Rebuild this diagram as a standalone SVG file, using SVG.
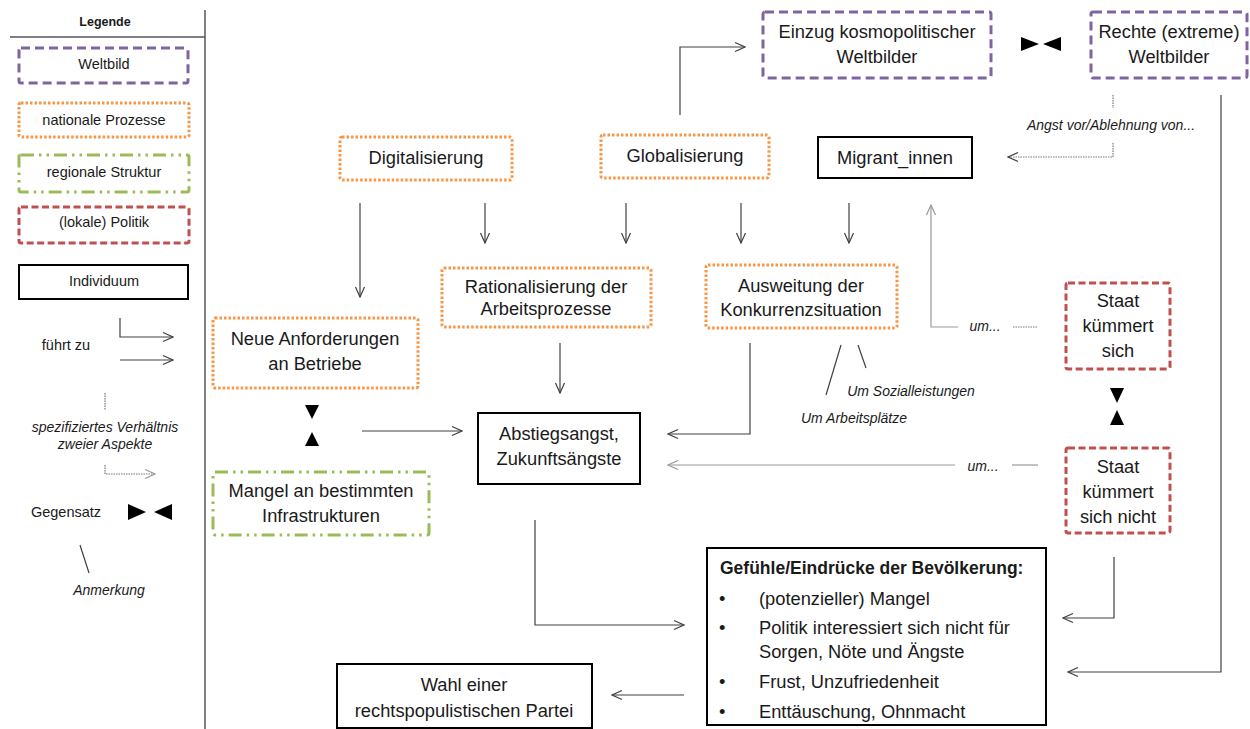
<svg xmlns="http://www.w3.org/2000/svg" width="1250" height="729" viewBox="0 0 1250 729">
<style>
text{font-family:"Liberation Sans",Arial,sans-serif;fill:#1a1a1a;dominant-baseline:central;text-anchor:middle}
.m{font-size:18.3px}
.l{font-size:14.5px}
.i{font-style:italic;font-size:14px}
.b{font-weight:bold}
.s{text-anchor:start}
.welt{fill:#fff;stroke:#8064A2;stroke-width:3;stroke-dasharray:9 5}
.nat{fill:#fff;stroke:#F79646;stroke-width:3;stroke-dasharray:2.5 2}
.reg{fill:#fff;stroke:#9BBB59;stroke-width:3;stroke-dasharray:13 5 2.5 5 2.5 5}
.pol{fill:#fff;stroke:#C0504D;stroke-width:3;stroke-dasharray:7 3.5}
.ind{fill:#fff;stroke:#000;stroke-width:2}
.c{fill:none;stroke:#404040;stroke-width:1.2}
.g{fill:none;stroke:#9a9a9a;stroke-width:1.2}
.d{fill:none;stroke:#777;stroke-width:1.2;stroke-dasharray:1.5 1}
.tri{fill:#000}
</style>
<defs>
<marker id="arr" viewBox="0 0 12 12" refX="11" refY="6" markerWidth="12" markerHeight="12" markerUnits="userSpaceOnUse" orient="auto">
<path d="M1,1.5 L11,6 L1,10.5" fill="none" stroke="#404040" stroke-width="1.2"/>
</marker>
<marker id="arrg" viewBox="0 0 12 12" refX="11" refY="6" markerWidth="12" markerHeight="12" markerUnits="userSpaceOnUse" orient="auto">
<path d="M1,1.5 L11,6 L1,10.5" fill="none" stroke="#9a9a9a" stroke-width="1.2"/>
</marker>
</defs>
<rect width="1250" height="729" fill="#fff"/>

<g id="legend">
<line x1="10" y1="37" x2="205" y2="37" stroke="#555" stroke-width="1.5"/>
<line x1="205" y1="10" x2="205" y2="729" stroke="#555" stroke-width="1.5"/>
<text x="105" y="22" class="b" font-size="12.5">Legende</text>
<rect x="19" y="48" width="169" height="35" rx="2" class="welt"/>
<text x="104" y="64" class="l">Weltbild</text>
<rect x="19" y="103" width="170" height="34" rx="2" class="nat"/>
<text x="104" y="120" class="l">nationale Prozesse</text>
<rect x="19" y="155" width="170" height="37" rx="2" class="reg"/>
<text x="104" y="172" class="l">regionale Struktur</text>
<rect x="19" y="207" width="170" height="36" rx="2" class="pol"/>
<text x="104" y="222" class="l">(lokale) Politik</text>
<rect x="19" y="265" width="169" height="34" class="ind"/>
<text x="104" y="281" class="l">Individuum</text>
<text x="66" y="345" class="l">führt zu</text>
<path d="M120,318 V337 H173" class="c" marker-end="url(#arr)"/>
<path d="M120,360 H173" class="c" marker-end="url(#arr)"/>
<path d="M105,393 V410" class="d"/>
<text x="105" y="427" class="i">spezifiziertes Verhältnis</text>
<text x="105" y="444" class="i">zweier Aspekte</text>
<path d="M105,465 V474 H155" class="d" marker-end="url(#arrg)"/>
<text x="66" y="512" class="l">Gegensatz</text>
<polygon points="128,504 146,512 128,520" class="tri"/>
<polygon points="172,504 154,512 172,520" class="tri"/>
<line x1="80" y1="545" x2="89" y2="573" stroke="#404040" stroke-width="1.2"/>
<text x="109" y="590" class="i">Anmerkung</text>
</g>

<g id="connectors">
<path d="M680,115 V47 H745" class="c" marker-end="url(#arr)"/>
<polygon points="1021,37 1039,44 1021,51" class="tri"/>
<polygon points="1061,37 1043,44 1061,51" class="tri"/>
<path d="M1113,95 V108" class="d"/>
<path d="M1113,143 V157 H1008" class="d" marker-end="url(#arr)"/>
<path d="M360,203 V297" class="c" marker-end="url(#arr)"/>
<path d="M485,203 V243" class="c" marker-end="url(#arr)"/>
<path d="M626,203 V243" class="c" marker-end="url(#arr)"/>
<path d="M741,203 V243" class="c" marker-end="url(#arr)"/>
<path d="M849,203 V243" class="c" marker-end="url(#arr)"/>
<path d="M560,343 V393" class="c" marker-end="url(#arr)"/>
<path d="M750,343 V434 H668" class="c" marker-end="url(#arr)"/>
<line x1="841" y1="345" x2="826" y2="395" stroke="#404040" stroke-width="1.2"/>
<line x1="858" y1="345" x2="866" y2="368" stroke="#404040" stroke-width="1.2"/>
<path d="M362,431 H462" class="c" marker-end="url(#arr)"/>
<polygon points="305,405 319,405 312,419" class="tri"/>
<polygon points="305,446 319,446 312,432" class="tri"/>
<path d="M958,327 H931 V205" class="g" marker-end="url(#arrg)"/>
<path d="M1013,327 H1038" class="d"/>
<path d="M955,465 H668" class="g" marker-end="url(#arrg)"/>
<path d="M1012,465 H1038" class="g"/>
<polygon points="1110,388 1124,388 1117,403" class="tri"/>
<polygon points="1110,425 1124,425 1117,410" class="tri"/>
<path d="M535,520 V625 H684" class="c" marker-end="url(#arr)"/>
<path d="M1114,557 V618 H1063" class="c" marker-end="url(#arr)"/>
<path d="M1221,95 V672 H1068" class="c" marker-end="url(#arr)"/>
<path d="M684,695 H612" class="c" marker-end="url(#arr)"/>
</g>

<g id="lbl-angst"><text x="1111" y="125" class="i">Angst vor/Ablehnung  von...</text></g>
<g id="lbl-sozial"><text x="911" y="391" class="i">Um Sozialleistungen</text></g>
<g id="lbl-arbeit"><text x="854" y="418" class="i">Um Arbeitsplätze</text></g>
<g id="lbl-um1"><text x="985" y="326" class="i">um...</text></g>
<g id="lbl-um2"><text x="983" y="466" class="i">um...</text></g>

<g id="n-kosmo">
<rect x="763" y="12" width="228" height="66" rx="2" class="welt"/>
<text x="877" y="31" class="m">Einzug kosmopolitischer</text>
<text x="877" y="56" class="m">Weltbilder</text>
</g>
<g id="n-rechte">
<rect x="1091" y="12" width="156" height="66" rx="2" class="welt"/>
<text x="1169" y="31" class="m">Rechte (extreme)</text>
<text x="1169" y="56" class="m">Weltbilder</text>
</g>
<g id="n-digital">
<rect x="340" y="137" width="172" height="43" rx="2" class="nat"/>
<text x="426" y="157" class="m">Digitalisierung</text>
</g>
<g id="n-global">
<rect x="601" y="135" width="168" height="43" rx="2" class="nat"/>
<text x="685" y="155" class="m">Globalisierung</text>
</g>
<g id="n-migrant">
<rect x="818" y="137" width="154" height="41" class="ind"/>
<text x="895" y="157" class="m">Migrant_innen</text>
</g>
<g id="n-rational">
<rect x="442" y="268" width="209" height="59" rx="2" class="nat"/>
<text x="546" y="286" class="m">Rationalisierung der</text>
<text x="546" y="308" class="m">Arbeitsprozesse</text>
</g>
<g id="n-ausweitung">
<rect x="706" y="265" width="191" height="63" rx="2" class="nat"/>
<text x="801" y="285" class="m">Ausweitung der</text>
<text x="801" y="309" class="m">Konkurrenzsituation</text>
</g>
<g id="n-neue">
<rect x="213" y="318" width="205" height="70" rx="2" class="nat"/>
<text x="315" y="338" class="m">Neue Anforderungen</text>
<text x="315" y="363" class="m">an Betriebe</text>
</g>
<g id="n-mangel">
<rect x="213" y="472" width="216" height="63" rx="2" class="reg"/>
<text x="321" y="490" class="m">Mangel an bestimmten</text>
<text x="321" y="515" class="m">Infrastrukturen</text>
</g>
<g id="n-abstieg">
<rect x="478" y="413" width="162" height="71" class="ind"/>
<text x="559" y="433" class="m">Abstiegsangst,</text>
<text x="559" y="458" class="m">Zukunftsängste</text>
</g>
<g id="n-staat1">
<rect x="1066" y="283" width="104" height="86" rx="2" class="pol"/>
<text x="1118" y="300" class="m">Staat</text>
<text x="1118" y="325" class="m">kümmert</text>
<text x="1118" y="350" class="m">sich</text>
</g>
<g id="n-staat2">
<rect x="1066" y="448" width="104" height="85" rx="2" class="pol"/>
<text x="1118" y="466" class="m">Staat</text>
<text x="1118" y="491" class="m">kümmert</text>
<text x="1118" y="516" class="m">sich nicht</text>
</g>
<g id="n-gefuehle">
<rect x="707" y="548" width="339" height="177" class="ind"/>
<text x="720" y="568" class="m b s" style="font-size:17.5px">Gefühle/Eindrücke der Bevölkerung:</text>
<text x="719" y="598" class="m s">•</text>
<text x="759" y="598" class="m s">(potenzieller) Mangel</text>
<text x="719" y="627" class="m s">•</text>
<text x="759" y="627" class="m s">Politik interessiert sich nicht für</text>
<text x="759" y="651" class="m s">Sorgen, Nöte und Ängste</text>
<text x="719" y="681" class="m s">•</text>
<text x="759" y="681" class="m s">Frust, Unzufriedenheit</text>
<text x="719" y="711" class="m s">•</text>
<text x="759" y="711" class="m s">Enttäuschung, Ohnmacht</text>
</g>
<g id="n-wahl">
<rect x="337" y="664" width="255" height="64" class="ind"/>
<text x="464" y="684" class="m">Wahl einer</text>
<text x="464" y="710" class="m">rechtspopulistischen Partei</text>
</g>
</svg>
